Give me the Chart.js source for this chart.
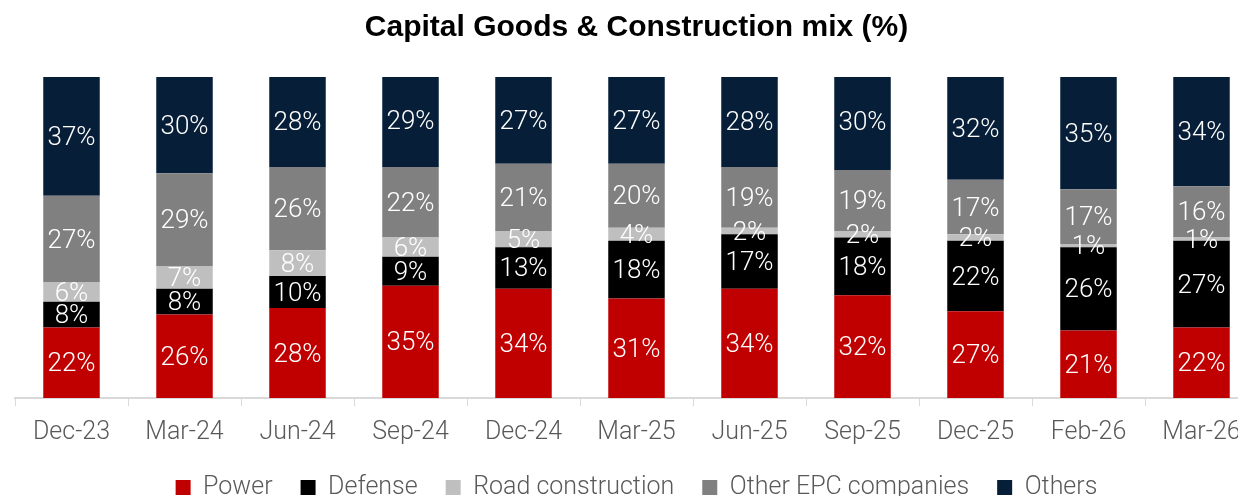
<!DOCTYPE html>
<html>
<head>
<meta charset="utf-8">
<script src="https://cdn.jsdelivr.net/npm/chart.js@4"></script>
<style>
    html, body { margin: 0; padding: 0; background: #fff; overflow: hidden; }
    #wrap { width: 1260px; height: 510px; }
</style>
</head>
<body>
<div id="wrap"><canvas id="mix"></canvas></div>
<script>
const categories = ['Dec-23', 'Mar-24', 'Jun-24', 'Sep-24', 'Dec-24', 'Mar-25', 'Jun-25', 'Sep-25', 'Dec-25', 'Feb-26', 'Mar-26'];
const power = [22, 26, 28, 35, 34, 31, 34, 32, 27, 21, 22];
const defense = [8, 8, 10, 9, 13, 18, 17, 18, 22, 26, 27];
const roadConstruction = [6, 7, 8, 6, 5, 4, 2, 2, 2, 1, 1];
const otherEpc = [27, 29, 26, 22, 21, 20, 19, 19, 17, 17, 16];
const others = [37, 30, 28, 29, 27, 27, 28, 30, 32, 35, 34];

const FONT = 'Roboto';
const GREY = '#595959';

// write the % value in the middle of every segment
const segmentLabels = {
    id: 'segmentLabels',
    afterDatasetsDraw(chart) {
        const ctx = chart.ctx;
        ctx.save();
        ctx.font = '300 26px ' + FONT;
        ctx.fillStyle = '#fff';
        ctx.textAlign = 'center';
        ctx.textBaseline = 'middle';
        chart.data.datasets.forEach((ds, i) => {
            const meta = chart.getDatasetMeta(i);
            meta.data.forEach((bar, j) => {
                const v = ds.data[j];
                ctx.fillText(v + '%', bar.x, (bar.y + bar.base) / 2 + 2);
            });
        });
        ctx.restore();
    }
};

function series(label, data, color) {
    return {
        label: label,
        data: data,
        backgroundColor: color,
        borderWidth: 0,
        barPercentage: 0.5,
        categoryPercentage: 1
    };
}

new Chart(document.getElementById('mix'), {
    type: 'bar',
    data: {
        labels: categories,
        datasets: [
            series('Power', power, '#C00000'),
            series('Defense', defense, '#000000'),
            series('Road construction', roadConstruction, '#BFBFBF'),
            series('Other EPC companies', otherEpc, '#808080'),
            series('Others', others, '#061E37')
        ]
    },
    options: {
        responsive: true,
        maintainAspectRatio: false,
        animation: false,
        layout: { padding: { left: 15, right: 2, top: 0, bottom: 0 } },
        plugins: {
            title: {
                display: true,
                text: 'Capital Goods & Construction mix (%)',
                color: '#000',
                font: { family: 'Liberation Sans', size: 30, weight: 'bold' },
                padding: { top: 10, bottom: 31 }
            },
            legend: {
                position: 'bottom',
                labels: {
                    color: GREY,
                    font: { family: FONT, size: 25, weight: '300' },
                    boxWidth: 15,
                    boxHeight: 15,
                    padding: 28
                }
            },
            tooltip: { enabled: false }
        },
        scales: {
            x: {
                stacked: true,
                afterFit: (scale) => { scale.height = 49; },
                grid: {
                    offset: true,
                    drawOnChartArea: false,
                    tickLength: 8,
                    color: '#D9D9D9'
                },
                border: { color: '#D9D9D9', width: 2 },
                ticks: {
                    color: GREY,
                    font: { family: FONT, size: 25, weight: '300' },
                    padding: 12,
                    maxRotation: 0
                }
            },
            y: {
                stacked: true,
                display: false,
                min: 0,
                max: 100
            }
        }
    },
    plugins: [segmentLabels]
});
</script>
</body>
</html>
